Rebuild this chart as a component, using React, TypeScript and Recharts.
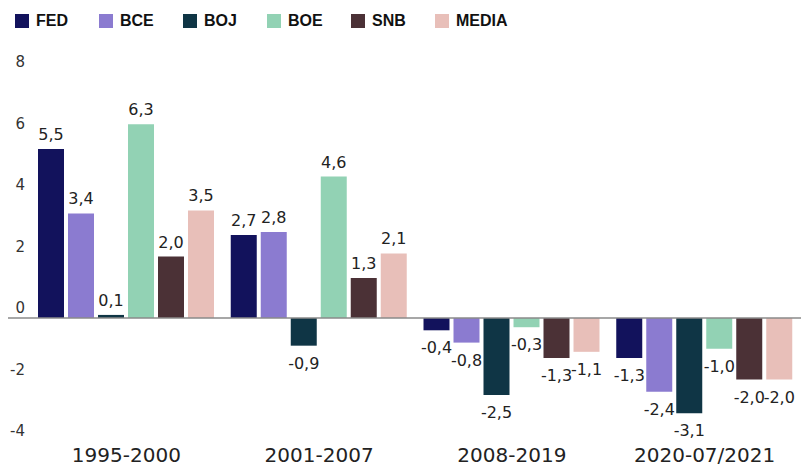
import { BarChart, Bar, XAxis, YAxis, Legend, ReferenceLine, LabelList } from "recharts"

const periods = ["1995-2000", "2001-2007", "2008-2019", "2020-07/2021"]
const fed = [5.5, 2.7, -0.4, -1.3]
const bce = [3.4, 2.8, -0.8, -2.4]
const boj = [0.1, -0.9, -2.5, -3.1]
const boe = [6.3, 4.6, -0.3, -1.0]
const snb = [2.0, 1.3, -1.3, -2.0]
const media = [3.5, 2.1, -1.1, -2.0]
const yTicks = [-4, -2, 0, 2, 4, 6, 8]

const series = [
  { key: "FED", values: fed, color: "#12125c" },
  { key: "BCE", values: bce, color: "#8b7bd0" },
  { key: "BOJ", values: boj, color: "#0f3545" },
  { key: "BOE", values: boe, color: "#92d2b4" },
  { key: "SNB", values: snb, color: "#4b3136" },
  { key: "MEDIA", values: media, color: "#e8bfb9" },
]

const data = periods.map((p, i) => {
  const row: any = { period: p }
  series.forEach((s) => (row[s.key] = s.values[i]))
  return row
})

const fmt = (v: number) => v.toFixed(1).replace(".", ",")

const ValueLabel = (props: any) => {
  const { x, y, width, height, value } = props
  const top = Math.min(y, y + height)
  const bottom = Math.max(y, y + height)
  const cx = x + width / 2
  return (
    <text
      x={cx}
      y={value >= 0 ? top - 9 : bottom + 23}
      textAnchor="middle"
      fontFamily="DejaVu Sans"
      fontSize={16}
      fill="#222"
    >
      {fmt(value)}
    </text>
  )
}

const YTick = (props: any) => {
  const { x, y, payload } = props
  return (
    <text x={x} y={y} dy={-5} textAnchor="end" fontFamily="DejaVu Sans" fontSize={15} fill="#333">
      {payload.value}
    </text>
  )
}

const XTick = (props: any) => {
  const { x, y, payload } = props
  return (
    <text x={x} y={y} dy={21} textAnchor="middle" fontFamily="DejaVu Sans" fontSize={20} fill="#222">
      {payload.value}
    </text>
  )
}

const renderLegend = () => (
  <div
    style={{
      height: 40,
      display: "flex",
      paddingLeft: 15,
      paddingTop: 14,
      boxSizing: "border-box",
    }}
  >
    {series.map((s) => (
      <div key={s.key} style={{ display: "flex", alignItems: "center", width: 84, height: 14 }}>
        <span style={{ width: 14, height: 14, background: s.color, marginRight: 7, display: "inline-block" }} />
        <span style={{ fontFamily: "Liberation Sans", fontWeight: 700, fontSize: 16, color: "#111" }}>
          {s.key}
        </span>
      </div>
    ))}
  </div>
)

export default function App() {
  return (
    <div style={{ position: "absolute", left: 0, top: 0, width: 801, height: 466, background: "#fff" }}>
      <BarChart
        width={801}
        height={466}
        data={data}
        margin={{ top: 32, right: 0, bottom: 0, left: 0 }}
        barSize={26}
        barGap={4}
      >
        <Legend verticalAlign="top" align="left" content={renderLegend} wrapperStyle={{ top: 0, left: 0 }} />
        <XAxis
          dataKey="period"
          axisLine={false}
          tickLine={false}
          tickSize={0}
          tickMargin={0}
          height={25}
          tick={<XTick />}
          interval={0}
        />
        <YAxis
          domain={[-4, 8]}
          ticks={yTicks}
          axisLine={false}
          tickLine={false}
          tickSize={0}
          tickMargin={5}
          width={30}
          tick={<YTick />}
          interval={0}
        />
        {series.map((s) => (
          <Bar key={s.key} dataKey={s.key} fill={s.color} isAnimationActive={false}>
            <LabelList dataKey={s.key} content={<ValueLabel />} />
          </Bar>
        ))}
        <ReferenceLine
          y={0}
          stroke="#8a8a8a"
          strokeWidth={1.5}
          shape={(p: any) => <line x1={8} y1={p.y1} x2={p.x2} y2={p.y2} stroke="#8a8a8a" strokeWidth={1.5} />}
        />
      </BarChart>
    </div>
  )
}
